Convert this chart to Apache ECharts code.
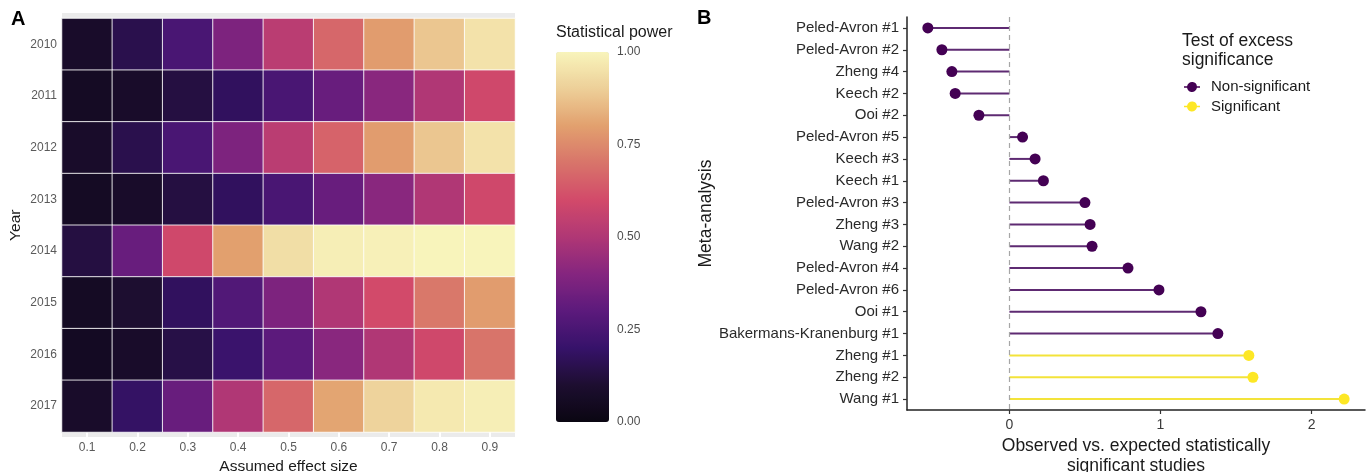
<!DOCTYPE html>
<html>
<head>
<meta charset="utf-8">
<script src="https://cdn.jsdelivr.net/npm/echarts@6/dist/echarts.min.js"></script>
<style>
  html, body { margin: 0; padding: 0; background: #ffffff; }
  #chart { width: 1370px; height: 472px; }
</style>
</head>
<body>
<div id="chart"></div>
<script>
// ---------- Panel A data ----------
const years = ['2010', '2011', '2012', '2013', '2014', '2015', '2016', '2017'];
const effectSizes = ['0.1', '0.2', '0.3', '0.4', '0.5', '0.6', '0.7', '0.8', '0.9'];
const power2010 = [0.08, 0.15, 0.25, 0.38, 0.53, 0.67, 0.79, 0.88, 0.95];
const power2011 = [0.06, 0.08, 0.13, 0.18, 0.25, 0.33, 0.41, 0.50, 0.59];
const power2012 = [0.08, 0.15, 0.25, 0.38, 0.53, 0.66, 0.79, 0.88, 0.95];
const power2013 = [0.06, 0.08, 0.13, 0.18, 0.25, 0.33, 0.41, 0.50, 0.59];
const power2014 = [0.13, 0.33, 0.59, 0.80, 0.94, 0.985, 0.99, 1.00, 1.00];
const power2015 = [0.06, 0.10, 0.18, 0.27, 0.38, 0.50, 0.60, 0.71, 0.79];
const power2016 = [0.055, 0.08, 0.14, 0.21, 0.30, 0.41, 0.50, 0.59, 0.70];
const power2017 = [0.08, 0.19, 0.33, 0.50, 0.67, 0.81, 0.91, 0.97, 0.985];
const powerRows = [power2010, power2011, power2012, power2013, power2014, power2015, power2016, power2017];
const colorbarTicks = [0, 0.25, 0.5, 0.75, 1];

// ---------- Panel B data ----------
const metaNames = ['Peled-Avron #1', 'Peled-Avron #2', 'Zheng #4', 'Keech #2', 'Ooi #2', 'Peled-Avron #5',
  'Keech #3', 'Keech #1', 'Peled-Avron #3', 'Zheng #3', 'Wang #2', 'Peled-Avron #4', 'Peled-Avron #6',
  'Ooi #1', 'Bakermans-Kranenburg #1', 'Zheng #1', 'Zheng #2', 'Wang #1'];
const metaValues = [-0.540, -0.447, -0.381, -0.359, -0.202, 0.087, 0.170, 0.225, 0.500, 0.534, 0.547,
  0.785, 0.990, 1.268, 1.380, 1.585, 1.612, 2.216];
const metaSignificant = [false, false, false, false, false, false, false, false, false, false, false,
  false, false, false, false, true, true, true];
const bTicks = [0, 1, 2];

// ---------- styling ----------
const FONT = '"Liberation Sans", Arial, Helvetica, sans-serif';
// magma-like palette as it appears in the figure (slightly muted)
const palette = ['#0a0612', '#1d0e30', '#36126a', '#5c1a7c', '#85257f', '#b03775',
  '#d24a6a', '#d8746a', '#e2a06e', '#edcf98', '#f8f4bb'];
const PURPLE = '#440154', PURPLE_STICK = '#5e2a72';
const YELLOW = '#FDE725', YELLOW_STICK = '#f3e33a';
const legendIcon = 'path://M0,5.25H3.06A5,5 0 0 1 12.94,5.25H16V6.75H12.94A5,5 0 0 1 3.06,6.75H0Z';

const heatData = [];
powerRows.forEach((row, yi) => row.forEach((v, xi) => heatData.push([xi, yi, v])));

const ns = metaValues.map((v, i) => metaSignificant[i] ? '-' : v);
const sg = metaValues.map((v, i) => metaSignificant[i] ? v : '-');
const nsPts = metaValues.map((v, i) => metaSignificant[i] ? '-' : [v, metaNames[i]]);
const sgPts = metaValues.map((v, i) => metaSignificant[i] ? [v, metaNames[i]] : '-');

const chart = echarts.init(document.getElementById('chart'), null, { renderer: 'canvas' });
chart.setOption({
  animation: false,
  backgroundColor: '#ffffff',
  textStyle: { fontFamily: FONT },
  title: [
    { text: 'A', left: 11, top: 9, padding: 0, textStyle: { fontFamily: FONT, fontSize: 20, fontWeight: 'bold', color: '#000' } },
    { text: 'B', left: 697, top: 8, padding: 0, textStyle: { fontFamily: FONT, fontSize: 20, fontWeight: 'bold', color: '#000' } },
    { text: 'Statistical power', left: 556, top: 25, padding: 0, textStyle: { fontFamily: FONT, fontSize: 16, fontWeight: 'normal', color: '#1a1a1a' } },
    { text: 'Test of excess\nsignificance', left: 1182, top: 31, padding: 0, textStyle: { fontFamily: FONT, fontSize: 17.5, lineHeight: 19.5, fontWeight: 'normal', color: '#1a1a1a' } }
  ],
  legend: {
    orient: 'vertical', left: 1184, top: 79.5, padding: 0,
    itemWidth: 16, itemHeight: 11, itemGap: 4.5,
    textStyle: { fontFamily: FONT, fontSize: 15, lineHeight: 15, color: '#1a1a1a', padding: [0, 0, 0, 6] },
    data: [
      { name: 'Non-significant', icon: legendIcon, itemStyle: { color: PURPLE } },
      { name: 'Significant', icon: legendIcon, itemStyle: { color: YELLOW } }
    ],
    selectedMode: false
  },
  visualMap: {
    type: 'continuous', min: 0, max: 1, seriesIndex: 0, calculable: false, hoverLink: false,
    orient: 'vertical', left: 556, top: 52, itemWidth: 53, itemHeight: 370, padding: 0,
    showLabel: false, text: null,
    inRange: { color: palette }
  },
  grid: [
    { left: 62, right: 855, top: 18.5, bottom: 40, outerBoundsMode: 'none', containLabel: false },
    { left: 62, right: 855, top: 13, bottom: 35, show: true, backgroundColor: '#EBEBEB', borderWidth: 0, outerBoundsMode: 'none', containLabel: false },
    { left: 556, top: 52, width: 53, height: 370, outerBoundsMode: 'none', containLabel: false },
    { left: 907, right: 5, top: 17, bottom: 62, outerBoundsMode: 'none', containLabel: false }
  ],
  xAxis: [
    { gridIndex: 0, type: 'category', data: effectSizes, z: 5,
      name: 'Assumed effect size', nameLocation: 'middle', nameGap: 24,
      nameTextStyle: { fontFamily: FONT, fontSize: 15.5, color: '#1a1a1a' },
      axisLine: { show: false }, axisTick: { show: false },
      axisLabel: { margin: 10, fontSize: 12, color: '#5a5a5a', fontFamily: FONT },
      splitLine: { show: false } },
    { gridIndex: 1, type: 'category', data: effectSizes, position: 'top',
      axisLine: { show: false }, axisLabel: { show: false }, splitLine: { show: false },
      axisTick: { show: true, inside: true, alignWithLabel: true, length: 6, lineStyle: { color: '#ffffff', width: 2 } } },
    { gridIndex: 1, type: 'category', data: effectSizes, position: 'bottom',
      axisLine: { show: false }, axisLabel: { show: false }, splitLine: { show: false },
      axisTick: { show: true, inside: true, alignWithLabel: true, length: 6, lineStyle: { color: '#ffffff', width: 2 } } },
    { gridIndex: 2, type: 'value', show: false, min: 0, max: 1 },
    { gridIndex: 3, type: 'value', min: -0.678, max: 2.354,
      name: 'Observed vs. expected statistically\nsignificant studies', nameLocation: 'middle', nameGap: 24,
      nameTextStyle: { fontFamily: FONT, fontSize: 17.5, lineHeight: 19.5, color: '#1a1a1a' },
      axisLine: { show: true, onZero: false, lineStyle: { color: '#222', width: 1.5 } },
      axisTick: { show: true, length: 4, customValues: bTicks, lineStyle: { color: '#333', width: 1.2 } },
      axisLabel: { customValues: bTicks, margin: 8, fontSize: 14, color: '#3a3a3a', fontFamily: FONT },
      splitLine: { show: false } }
  ],
  yAxis: [
    { gridIndex: 0, type: 'category', data: years, inverse: true, z: 5,
      name: 'Year', nameLocation: 'middle', nameGap: 38, nameRotate: 90,
      nameTextStyle: { fontFamily: FONT, fontSize: 15.5, color: '#1a1a1a' },
      axisLine: { show: false }, axisTick: { show: false },
      axisLabel: { margin: 5, fontSize: 12, color: '#5a5a5a', fontFamily: FONT },
      splitLine: { show: false } },
    { gridIndex: 1, type: 'value', show: false },
    { gridIndex: 2, type: 'value', min: 0, max: 1, interval: 0.25, position: 'right',
      axisLine: { show: false }, axisTick: { show: false }, splitLine: { show: false },
      axisLabel: { margin: 8, fontSize: 12, color: '#4d4d4d', fontFamily: FONT,
        formatter: v => colorbarTicks.indexOf(v) >= 0 ? v.toFixed(2) : '' } },
    { gridIndex: 3, type: 'category', data: metaNames, inverse: true,
      name: 'Meta-analysis', nameLocation: 'middle', nameGap: 190, nameRotate: 90,
      nameTextStyle: { fontFamily: FONT, fontSize: 17.5, color: '#1a1a1a' },
      axisLine: { show: true, onZero: false, lineStyle: { color: '#222', width: 1.5 } },
      axisTick: { show: true, length: 4, alignWithLabel: true, lineStyle: { color: '#333', width: 1.2 } },
      axisLabel: { margin: 8, fontSize: 15, color: '#2a2a2a', fontFamily: FONT },
      splitLine: { show: false } }
  ],
  series: [
    { type: 'heatmap', xAxisIndex: 0, yAxisIndex: 0, data: heatData, z: 3,
      itemStyle: { borderColor: 'rgba(255,255,255,0.85)', borderWidth: 1 },
      emphasis: { disabled: true } },
    { type: 'scatter', xAxisIndex: 3, yAxisIndex: 2, data: [], silent: true },
    { name: 'Non-significant', type: 'bar', xAxisIndex: 4, yAxisIndex: 3, data: ns,
      barWidth: 2, barGap: '-100%', itemStyle: { color: PURPLE_STICK }, z: 3,
      markLine: { silent: true, symbol: 'none', label: { show: false },
        lineStyle: { color: '#a6a6a6', type: [5, 4], width: 1.2 },
        data: [{ xAxis: 0 }] } },
    { name: 'Significant', type: 'bar', xAxisIndex: 4, yAxisIndex: 3, data: sg,
      barWidth: 2, barGap: '-100%', itemStyle: { color: YELLOW_STICK }, z: 3 },
    { name: 'Non-significant', type: 'scatter', xAxisIndex: 4, yAxisIndex: 3, data: nsPts,
      symbolSize: 11, itemStyle: { color: PURPLE, opacity: 1 }, z: 4 },
    { name: 'Significant', type: 'scatter', xAxisIndex: 4, yAxisIndex: 3, data: sgPts,
      symbolSize: 11, itemStyle: { color: YELLOW, opacity: 1 }, z: 4 }
  ]
});
</script>
</body>
</html>
